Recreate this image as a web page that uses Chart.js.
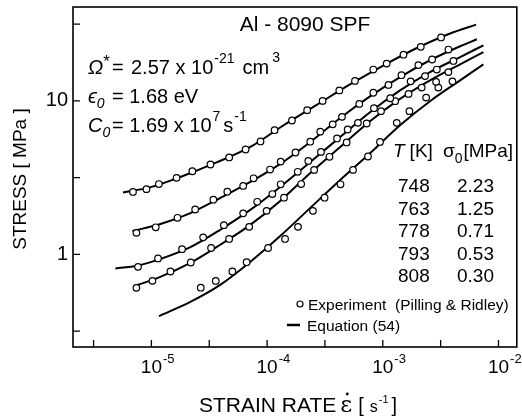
<!DOCTYPE html>
<html>
<head>
<meta charset="utf-8">
<script src="https://cdn.jsdelivr.net/npm/chart.js@4.4.1/dist/chart.umd.min.js"></script>
<style>
  html, body { margin: 0; padding: 0; background: #fff; }
  canvas { display: block; }
</style>
</head>
<body>
<canvas id="chart" width="522" height="419"></canvas>
<script>
// experiment points: strain rate [1/s] and stress [MPa], one pair per temperature
const rate748 = [6.93e-6, 9.06e-6, 1.16e-5, 1.65e-5, 2.26e-5, 3.24e-5, 4.70e-5, 6.52e-5, 8.77e-5, 1.16e-4, 1.64e-4, 2.22e-4, 3.02e-4, 4.21e-4, 5.75e-4, 8.28e-4, 1.08e-3, 1.51e-3, 2.13e-3, 3.19e-3];
const stress748 = [2.55, 2.66, 2.87, 3.15, 3.48, 3.85, 4.28, 4.82, 5.44, 6.44, 7.45, 8.70, 10.0, 11.7, 13.5, 16.0, 17.5, 20.0, 22.5, 25.9];
const rate763 = [7.42e-6, 1.09e-5, 1.68e-5, 2.39e-5, 3.43e-5, 4.53e-5, 6.21e-5, 7.64e-5, 1.06e-4, 1.31e-4, 1.76e-4, 2.36e-4, 2.88e-4, 3.69e-4, 4.44e-4, 6.26e-4, 8.28e-4, 1.12e-3, 1.45e-3, 2.03e-3, 2.67e-3, 3.69e-3];
const stress763 = [1.38, 1.50, 1.73, 1.96, 2.27, 2.56, 2.79, 3.13, 3.57, 4.02, 4.61, 5.42, 6.30, 7.03, 7.87, 9.56, 11.3, 12.7, 14.7, 17.1, 18.6, 21.6];
const rate778 = [7.66e-6, 1.14e-5, 1.84e-5, 2.80e-5, 4.23e-5, 6.21e-5, 8.21e-5, 1.11e-4, 1.31e-4, 1.84e-4, 2.27e-4, 2.92e-4, 4.02e-4, 4.97e-4, 6.10e-4, 8.39e-4, 1.16e-3, 1.74e-3, 2.32e-3, 2.93e-3, 4.08e-3];
const stress778 = [0.829, 0.940, 1.08, 1.29, 1.55, 1.85, 2.20, 2.47, 2.86, 3.45, 4.06, 4.65, 5.69, 6.51, 7.19, 8.96, 10.4, 13.4, 14.5, 16.0, 18.2];
const rate793 = [7.42e-6, 1.02e-5, 1.46e-5, 2.19e-5, 3.28e-5, 4.70e-5, 7.00e-5, 9.90e-5, 1.40e-4, 1.97e-4, 2.55e-4, 3.46e-4, 4.87e-4, 7.26e-4, 9.65e-4, 1.28e-3, 1.67e-3, 2.17e-3, 2.89e-3, 3.69e-3];
const stress793 = [0.605, 0.672, 0.773, 0.885, 1.10, 1.26, 1.51, 1.92, 2.34, 2.87, 3.55, 4.32, 5.36, 7.12, 8.57, 9.95, 11.1, 12.2, 13.3, 15.4];
const rate808 = [2.67e-5, 3.60e-5, 5.01e-5, 6.65e-5, 1.02e-4, 1.43e-4, 1.85e-4, 2.49e-4, 3.14e-4, 4.31e-4, 5.53e-4, 7.45e-4, 9.46e-4, 1.32e-3, 1.70e-3, 2.37e-3, 3.02e-3, 4.00e-3];
const stress808 = [0.606, 0.671, 0.773, 0.889, 1.10, 1.26, 1.51, 1.92, 2.34, 2.86, 3.55, 4.34, 5.40, 7.19, 8.57, 10.5, 12.2, 13.4];

// equation (54) curves
const fitRate748 = [5.68e-6, 9.67e-6, 1.87e-5, 3.65e-5, 7.10e-5, 1.38e-4, 2.68e-4, 5.20e-4, 1.01e-3, 1.97e-3, 3.82e-3, 6.41e-3];
const fitStress748 = [2.53, 2.73, 3.24, 3.97, 4.99, 6.91, 9.41, 12.8, 17.0, 22.1, 27.5, 31.4];
const fitRate763 = [6.85e-6, 1.18e-5, 2.15e-5, 3.90e-5, 7.10e-5, 1.29e-4, 2.35e-4, 4.26e-4, 7.75e-4, 1.41e-3, 2.56e-3, 4.66e-3, 6.50e-3];
const fitStress763 = [1.42, 1.57, 1.85, 2.32, 2.95, 3.87, 5.38, 7.71, 10.7, 14.3, 18.4, 22.7, 25.2];
const fitRate778 = [4.88e-6, 7.93e-6, 1.18e-5, 2.15e-5, 3.90e-5, 7.10e-5, 1.29e-4, 2.35e-4, 4.26e-4, 7.75e-4, 1.41e-3, 2.56e-3, 4.66e-3, 7.41e-3];
const fitStress778 = [0.809, 0.850, 0.930, 1.11, 1.44, 1.94, 2.74, 3.98, 5.80, 8.44, 11.7, 15.4, 19.3, 23.0];
const fitRate793 = [7.17e-6, 1.18e-5, 2.15e-5, 3.90e-5, 7.10e-5, 1.29e-4, 2.35e-4, 4.26e-4, 7.75e-4, 1.41e-3, 2.56e-3, 4.66e-3, 7.41e-3];
const fitStress793 = [0.623, 0.710, 0.876, 1.15, 1.55, 2.22, 3.38, 4.99, 7.37, 10.3, 13.6, 17.3, 20.8];
const fitRate808 = [1.16e-5, 2.15e-5, 3.90e-5, 7.10e-5, 1.29e-4, 2.35e-4, 4.26e-4, 7.75e-4, 1.41e-3, 2.56e-3, 4.66e-3, 7.41e-3];
const fitStress808 = [0.396, 0.488, 0.630, 0.889, 1.31, 2.00, 3.04, 4.56, 6.94, 9.95, 13.6, 17.3];

// table in the plot
const temps = ['748', '763', '778', '793', '808'];
const sigma0 = ['2.23', '1.25', '0.71', '0.53', '0.30'];

// axis ticks (half decades) and the decade labels
const xTicks = [3.162e-6, 1e-5, 3.162e-5, 1e-4, 3.162e-4, 1e-3, 3.162e-3, 1e-2];
const xTickLabels = [null, '-5', null, '-4', null, '-3', null, '-2'];
const yTicks = [0.3162, 1, 3.162, 10, 31.62];
const yTickLabels = [null, '1', null, '10', null];

const FONT = "'Liberation Sans', Arial, 'DejaVu Sans', sans-serif";
function font(size, italic) {
  return (italic ? 'italic ' : '') + size + 'px ' + FONT;
}

// pieces: [text, size, dy, italic, gapBefore]
function run(ctx, x, y, pieces) {
  pieces.forEach(function(p) {
    x += p[4] || 0;
    ctx.font = font(p[1], p[3]);
    ctx.fillText(p[0], x, y + (p[2] || 0));
    x += ctx.measureText(p[0]).width;
  });
  return x;
}

function pts(xs, ys) {
  return xs.map(function(v, i) { return { x: v, y: ys[i] }; });
}

const series = [
  [rate748, stress748, fitRate748, fitStress748],
  [rate763, stress763, fitRate763, fitStress763],
  [rate778, stress778, fitRate778, fitStress778],
  [rate793, stress793, fitRate793, fitStress793],
  [rate808, stress808, fitRate808, fitStress808]
];

let datasets = [];
series.forEach(function(s, i) {
  datasets.push({
    label: 'Experiment ' + temps[i],
    data: pts(s[0], s[1]),
    showLine: false,
    pointRadius: 3.3,
    pointBorderWidth: 1.2,
    pointBackgroundColor: '#fff',
    pointBorderColor: '#000',
    order: 0
  });
  datasets.push({
    label: 'Equation (54) ' + temps[i],
    data: pts(s[2], s[3]),
    showLine: true,
    borderColor: '#000',
    borderWidth: 2,
    pointRadius: 0,
    cubicInterpolationMode: 'monotone',
    fill: false,
    order: 1
  });
});

const decorations = {
  id: 'decorations',
  afterDraw: function(chart) {
    const ctx = chart.ctx;
    const a = chart.chartArea;
    const xs = chart.scales.x, ys = chart.scales.y;
    ctx.save();
    ctx.fillStyle = '#000';
    ctx.strokeStyle = '#000';

    // frame
    ctx.lineWidth = 1.6;
    ctx.strokeRect(a.left, a.top, a.right - a.left, a.bottom - a.top);

    // inward ticks
    ctx.lineWidth = 1.3;
    ctx.beginPath();
    xTicks.forEach(function(v) {
      const px = xs.getPixelForValue(v);
      ctx.moveTo(px, a.bottom);
      ctx.lineTo(px, a.bottom - 7);
    });
    yTicks.forEach(function(v) {
      const py = ys.getPixelForValue(v);
      ctx.moveTo(a.left, py);
      ctx.lineTo(a.left + 7, py);
    });
    ctx.stroke();

    // x tick labels 10^n
    ctx.textBaseline = 'alphabetic';
    xTicks.forEach(function(v, i) {
      if (!xTickLabels[i]) return;
      const px = xs.getPixelForValue(v);
      ctx.font = font(19);
      const w = ctx.measureText('10').width;
      run(ctx, px - w / 2, 373, [['10', 19], [xTickLabels[i], 13, -10, false, 1]]);
    });

    // y tick labels
    ctx.textAlign = 'right';
    ctx.textBaseline = 'middle';
    ctx.font = font(20);
    yTicks.forEach(function(v, i) {
      if (!yTickLabels[i]) return;
      ctx.fillText(yTickLabels[i], 68, ys.getPixelForValue(v));
    });

    // axis titles
    ctx.save();
    ctx.translate(21, 179);
    ctx.rotate(-Math.PI / 2);
    ctx.textAlign = 'center';
    ctx.font = font(19);
    ctx.fillText('STRESS [ MPa ]', 0, 0);
    ctx.restore();

    ctx.textAlign = 'left';
    ctx.textBaseline = 'alphabetic';
    let x = run(ctx, 199, 412, [['STRAIN RATE', 21]]);
    ctx.font = "23px 'DejaVu Serif', serif";
    const ex = x + 4;
    ctx.fillText('\u03B5', ex, 412);
    const ew = ctx.measureText('\u03B5').width;
    ctx.beginPath();
    ctx.arc(ex + ew / 2 + 1, 394, 1.4, 0, Math.PI * 2);
    ctx.fill();
    run(ctx, ex + ew, 412, [['[', 20, 0, false, 6], ['s', 16, 0, false, 6], ['-1', 11, -9, false, 1], [']', 20, 0, false, 3]]);

    // title and parameters
    ctx.textAlign = 'center';
    ctx.font = font(21);
    ctx.fillText('Al - 8090 SPF', 305, 31);
    ctx.textAlign = 'left';

    run(ctx, 88, 74, [['\u03A9', 20, 0, true], ['*', 17, -7]]);
    run(ctx, 112, 74, [['=', 20]]);
    x = run(ctx, 131, 74, [['2.57 x 10', 20], ['-21', 14, -11, false, 1]]);
    run(ctx, x + 8, 74, [['cm', 20], ['3', 14, -12, false, 3]]);

    run(ctx, 88, 103, [['\u03F5', 20, 0, true], ['0', 14, 5, true, 0]]);
    run(ctx, 112, 103, [['= 1.68 eV', 20]]);

    run(ctx, 88, 132, [['C', 20, 0, true], ['0', 14, 5, true, 0]]);
    x = run(ctx, 112, 132, [['= 1.69 x 10', 20], ['7', 14, -11, false, 1]]);
    run(ctx, x + 3, 132, [['s', 20], ['-1', 14, -11, false, 1]]);

    // table of T and sigma0
    run(ctx, 393, 157, [['T', 19, 0, true], ['[K]', 19, 0, false, 5]]);
    run(ctx, 443, 157, [['\u03C3', 19], ['0', 14, 6], ['[MPa]', 19, 0, false, 1]]);
    ctx.font = font(19);
    temps.forEach(function(t, i) {
      const by = 192 + i * 22.5;
      ctx.fillText(t, 398, by);
      ctx.fillText(sigma0[i], 457, by);
    });

    // legend
    ctx.lineWidth = 1.2;
    ctx.beginPath();
    ctx.arc(300, 304, 3, 0, Math.PI * 2);
    ctx.stroke();
    ctx.font = font(15.5);
    ctx.fillText('Experiment  (Pilling & Ridley)', 308, 309.5);
    ctx.lineWidth = 2.5;
    ctx.beginPath();
    ctx.moveTo(287, 325);
    ctx.lineTo(300, 325);
    ctx.stroke();
    ctx.fillText('Equation (54)', 307, 330.5);

    ctx.restore();
  }
};

new Chart(document.getElementById('chart'), {
  type: 'scatter',
  data: { datasets: datasets },
  options: {
    responsive: false,
    animation: false,
    layout: { padding: { left: 73, right: 5, top: 7, bottom: 72 } },
    plugins: { legend: { display: false }, tooltip: { enabled: false } },
    scales: {
      x: { type: 'logarithmic', min: 2.1e-6, max: 0.0144, display: false },
      y: { type: 'logarithmic', min: 0.249, max: 40.9, display: false }
    }
  },
  plugins: [decorations]
});
</script>
</body>
</html>
